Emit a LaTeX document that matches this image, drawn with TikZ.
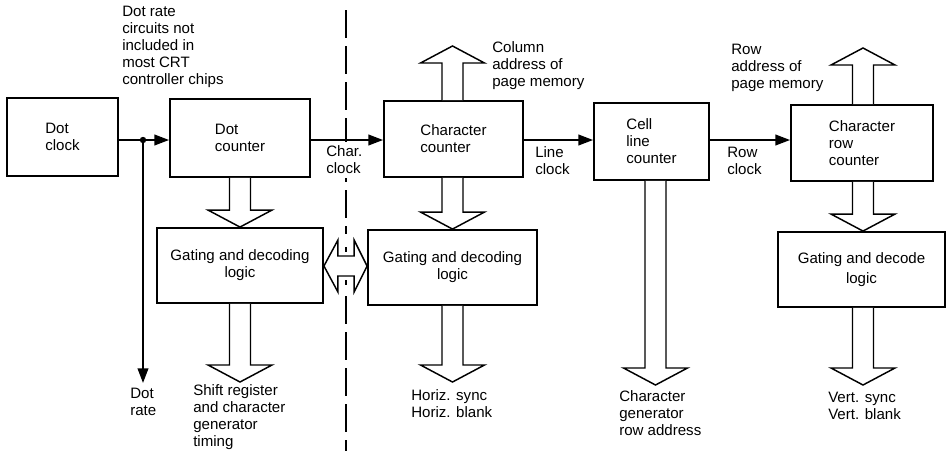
\documentclass[tikz,border=0pt]{standalone}
\usepackage{fontspec}
\setmainfont{Liberation Sans}
\usetikzlibrary{arrows.meta,calc}
\newcommand{\hollowarrow}[2]{%
  \draw[hollowstyle] let \p1=(#1), \p2=(#2), \n2={ifthenelse(\y1>\y2,\y2+12.75pt,\y2-12.75pt)} in
   (\x1-7.875pt,\y1) -- (\x1-7.875pt,\n2*1pt) -- (\x1-24pt,\n2*1pt) -- (\x1,\y2)
   -- (\x1+24pt,\n2*1pt) -- (\x1+7.875pt,\n2*1pt) -- (\x1+7.875pt,\y1);}
\begin{document}
\begin{tikzpicture}[x=0.75pt,y=-0.75pt,
  every node/.style={font=\fontsize{11.3}{12.75}\selectfont},
  blk/.style={draw,line width=1.4pt,inner sep=0pt,align=left},
  lbl/.style={inner sep=0pt,align=left,anchor=west},
  sig/.style={line width=1.3pt,-{Triangle[length=11pt,width=8pt]}},
  hollowstyle/.style={draw,fill=white,line width=1.1pt,line join=miter},
  divider/.style={line width=1.3pt,dash pattern=on 21pt off 6pt}
]
\useasboundingbox (0,0) rectangle (946,450);

% dividing line
\draw[divider] (346,10) -- (346,234);
\draw[line width=1.3pt] (346,247) -- (346,252);
\draw[line width=1.3pt] (346,280) -- (346,285);
\draw[divider] (346,296) -- (346,452);

% boxes
\node[blk,minimum width=83.25pt,minimum height=58.5pt] (dclk) at (62.5,137) {Dot\\clock};
\node[blk,minimum width=105pt,minimum height=58.5pt] (dcnt) at (240,138) {Dot\\counter};
\node[blk,minimum width=124.5pt,minimum height=56.25pt,align=center] (g1) at (240,265.5) {Gating and decoding\\logic};
\node[blk,minimum width=104.25pt,minimum height=57pt] (cc) at (453.5,139) {Character\\counter};
\node[blk,minimum width=126.75pt,minimum height=56.25pt,align=center] (g2) at (452.5,267.5) {Gating and decoding\\logic};
\node[blk,minimum width=86.25pt,minimum height=57.75pt] (cell) at (651.5,141.5) {Cell\\line\\counter};
\node[blk,minimum width=106.5pt,minimum height=57pt] (rc) at (862,143) {Character\\row\\counter};
\node[blk,minimum width=125.25pt,minimum height=56.25pt,align=center] (g3) at (861.5,269.5) {Gating and decode\\[2.5pt]logic};

% free ends
\coordinate (j) at (143,140);
\coordinate (drt) at (143,383);
\coordinate (t1) at (240,382);
\coordinate (t2) at (452.5,46);
\coordinate (t3) at (452.5,382);
\coordinate (t4) at (655.5,385);
\coordinate (t5) at (863,48);
\coordinate (t6) at (863,385);
\coordinate (m) at (345.5,266);

% signal arrows
\draw[sig] (dclk.east |- j) -- (dcnt.west |- j);
\draw[sig] (j) -- (drt);
\fill (j) circle (2.4pt);
\draw[sig] (dcnt.east |- j) -- (cc.west |- j);
\draw[sig] (cc.east |- j) -- (cell.west |- j);
\draw[sig] (cell.east |- j) -- (rc.west |- j);

% hollow bus arrows
\hollowarrow{dcnt.south}{g1.north}
\hollowarrow{g1.south}{t1}
\hollowarrow{cc.north -| t2}{t2}
\hollowarrow{cc.south -| t2}{g2.north}
\hollowarrow{g2.south}{t3}
\hollowarrow{cell.south -| t4}{t4}
\hollowarrow{rc.north -| t5}{t5}
\hollowarrow{rc.south -| t5}{g3.north}
\hollowarrow{g3.south -| t6}{t6}

% double arrow across the divider
\draw[hollowstyle] let \p1=(g1.east |- m), \p2=(g2.west |- m) in
  (\p1) -- (\x1+10.5pt,\y1+19.5pt) -- (\x1+10.5pt,\y1+7.5pt) -- (\x2-9.75pt,\y1+7.5pt)
  -- (\x2-9.75pt,\y1+19.5pt) -- (\p2) -- (\x2-9.75pt,\y1-19.5pt) -- (\x2-9.75pt,\y1-7.5pt)
  -- (\x1+10.5pt,\y1-7.5pt) -- (\x1+10.5pt,\y1-19.5pt) -- cycle;

% labels
\node[lbl] (note) at (122,47) {Dot rate\\circuits not\\included in\\most CRT\\controller chips};
\node[lbl,fill=white,inner ysep=3pt] (chclk) at (326,160) {Char.\\clock};
\node[lbl] (col) at (492,66) {Column\\address of\\page memory};
\node[lbl] (lclk) at (535,161) {Line\\clock};
\node[lbl] (rclk) at (727,161) {Row\\clock};
\node[lbl] (row) at (731,68) {Row\\address of\\page memory};
\node[lbl] (drl) at (130,402) {Dot\\rate};
\node[lbl,anchor=north west] (shift) at (193,384) {Shift register\\and character\\generator\\timing};
\node[lbl] (horiz) at (411,404) {Horiz. sync\\Horiz. blank};
\node[lbl] (cgen) at (619,413) {Character\\generator\\row address};
\node[lbl] (vert) at (828,406) {Vert. sync\\Vert. blank};
\end{tikzpicture}
\end{document}
